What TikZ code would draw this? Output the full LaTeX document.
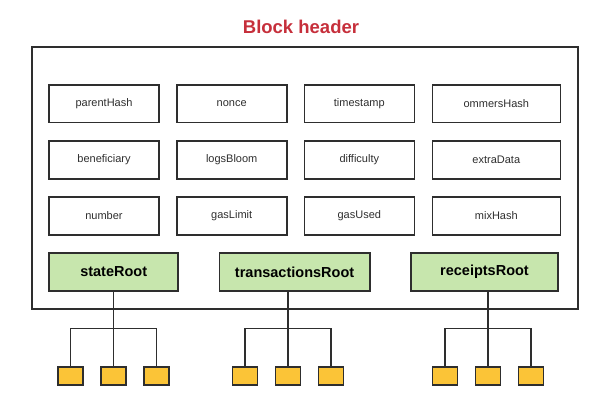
\documentclass[tikz,border=0pt]{standalone}
\usepackage{fontspec}
\setmainfont{Liberation Sans}
\definecolor{titlered}{HTML}{C62F3B}
\definecolor{rootgreen}{HTML}{C7E6AD}
\definecolor{leafyellow}{HTML}{FBC437}
\definecolor{edge}{HTML}{2E2E2E}
\begin{document}
\begin{tikzpicture}[x=1pt,y=-1pt,
  field/.style={draw=edge,line width=1.6pt,rectangle,inner sep=0pt,
    minimum width=110pt,minimum height=37.5pt,text=edge,
    font=\fontsize{11}{13}\selectfont},
  rootbox/.style={draw=edge,line width=1.6pt,rectangle,inner sep=0pt,
    fill=rootgreen,minimum height=37.5pt,text=black,
    font=\fontsize{14.5}{17}\selectfont\bfseries},
  leaf/.style={draw=edge,line width=1.6pt,rectangle,inner sep=0pt,
    fill=leafyellow,minimum width=25pt,minimum height=18pt},
  wire/.style={draw=edge,line width=1.6pt}]
\useasboundingbox (0,0) rectangle (611,404);

% title
\node[text=titlered,font=\fontsize{18.5}{22}\selectfont\bfseries,anchor=base]
  (title) at (301,33.3) {Block header};

% outer frame of the header
\node[draw=edge,line width=1.6pt,rectangle,inner sep=0pt,
  minimum width=546.5pt,minimum height=262pt] (frame) at (305,178.2) {};

% header fields
\node[field] (parentHash) at (104,103.8) {parentHash};
\node[field] (nonce) at (231.7,103.8) {nonce};
\node[field] (timestamp) at (359.3,103.8) {timestamp};
\node[field,minimum width=128pt] (ommersHash) at (496.3,103.8) {ommersHash};

\node[field] (beneficiary) at (104,160) {beneficiary};
\node[field] (logsBloom) at (231.7,160) {logsBloom};
\node[field] (difficulty) at (359.3,160) {difficulty};
\node[field,minimum width=128pt] (extraData) at (496.3,160) {extraData};

\node[field] (number) at (104,216) {number};
\node[field] (gasLimit) at (231.7,216) {gasLimit};
\node[field] (gasUsed) at (359.3,216) {gasUsed};
\node[field,minimum width=128pt] (mixHash) at (496.3,216) {mixHash};

% trie roots
\node[rootbox,minimum width=129pt] (stateRoot) at (113.7,272) {stateRoot};
\node[rootbox,minimum width=150.5pt] (transactionsRoot) at (294.6,272) {transactionsRoot};
\node[rootbox,minimum width=147.5pt] (receiptsRoot) at (484.5,272) {receiptsRoot};

% leaves
\foreach \n/\x in {s1/70.3,s2/113.3,s3/156.3,
                   t1/245,t2/288,t3/331,
                   r1/445,r2/488,r3/531}
  \node[leaf] (\n) at (\x,376) {};

% branches
\coordinate (sj) at (113.3,328.3);
\coordinate (tj) at (288,328.3);
\coordinate (rj) at (488,328.3);
\draw[wire] (stateRoot.south -| sj) -- (sj);
\draw[wire] (transactionsRoot.south -| tj) -- (tj);
\draw[wire] (receiptsRoot.south -| rj) -- (rj);
\draw[wire] (s1.north) |- (sj) -| (s3.north);
\draw[wire] (sj) -- (s2.north);
\draw[wire] (t1.north) |- (tj) -| (t3.north);
\draw[wire] (tj) -- (t2.north);
\draw[wire] (r1.north) |- (rj) -| (r3.north);
\draw[wire] (rj) -- (r2.north);
\end{tikzpicture}
\end{document}
